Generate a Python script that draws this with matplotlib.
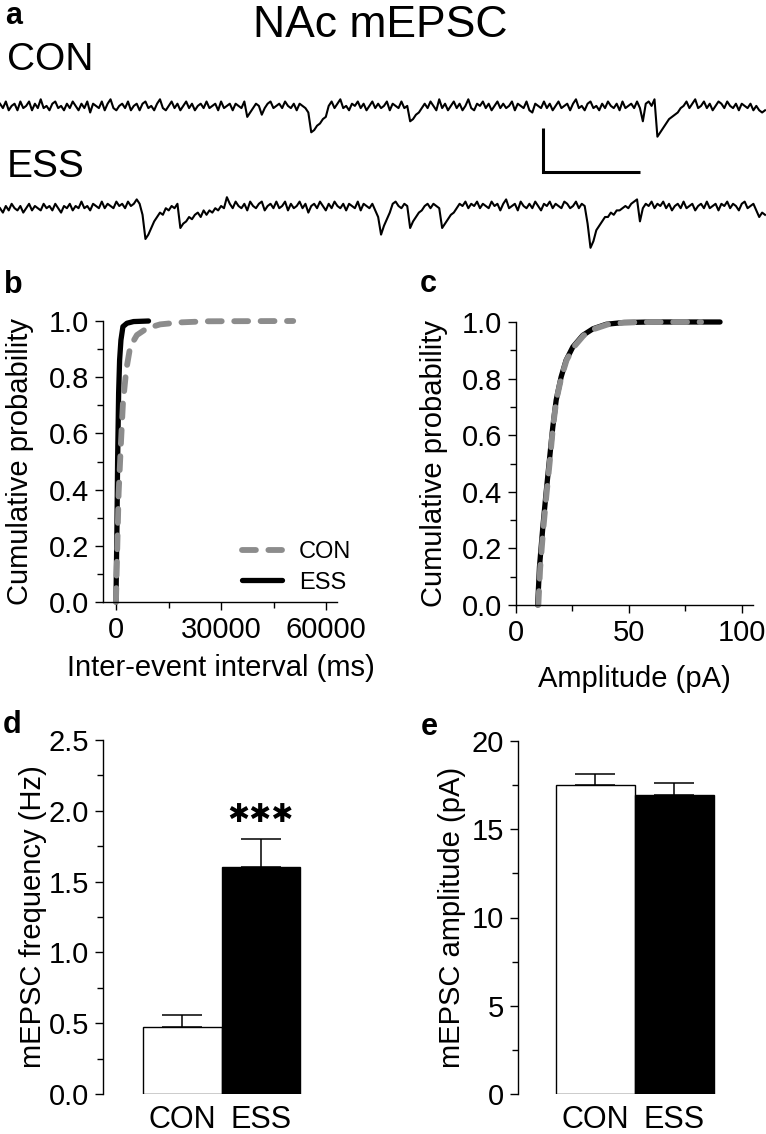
import numpy as np
import matplotlib
matplotlib.use("Agg")
import matplotlib.pyplot as plt
from matplotlib.ticker import FixedLocator

plt.rcParams['font.family'] = ['Liberation Sans', 'DejaVu Sans']
plt.rcParams['lines.scale_dashes'] = False

# --- data ---
# example traces (pA), one sample every 3 ms
trace_con = [
    1, -1, 2, -2, 0, 1, -2, 2, -1, 0, 2, -2, 1, -1, 3, -1, 0, -2, 1, 2, -1, 0, -2, 1,
    -1, 2, 0, -2, 1, -1, 2, -3, 1, 0, -1, 2, -2, 1, 3, -1, -2, 0, 1, -1, 2, -2, 0, 1,
    -2, 1, 2, -1, 0, -2, 1, 3, -1, -2, 0, 2, -1, 1, -2, 0, 2, -1, 1, -2, 0, 1, -1, 2,
    -1, 0, 1, -2, 2, -1, 0, 1, -2, 1, 0, -1, 2, -5, -3, -1, 1, 0, -4, -1, 1, 2, -1, 0,
    1, -1, 2, 0, -1, 1, -2, 1, 0, -1, -3, -12, -11, -9, -8, -6, -5, 0, 2, -1, 1, 3, -1, 0,
    -2, 1, 0, 2, -1, 1, -2, 0, 2, -1, 1, -1, 0, 2, -2, 1, 0, -1, 2, -1, 0, -7, -6, -4,
    -3, -1, 1, -1, 2, 0, -2, 3, -1, 1, -2, 0, 2, -1, 1, -2, 0, 3, -1, -2, 1, 0, 2, -1,
    1, -2, 0, 2, -1, 1, -1, 0, 2, -2, 1, 0, -1, 2, -2, -3, 1, 0, -1, 2, -1, 1, -2, 0,
    2, -1, 0, 1, -2, 1, 3, -1, 0, -2, 1, 2, -1, 0, -2, 1, -1, 2, 0, -1, 1, -2, 2, -1,
    0, 1, -1, 2, -1, -7, 1, 2, 0, 3, -14, -12, -10, -8, -6, -5, -4, -3, -1, 0, 2, -1, 1, 3,
    -1, 0, 2, -1, 1, -2, 0, 2, 1, -1, 2, 0, -1, 1, -2, 1, 0, -1, 1, -2, 0, -2, -3, -2,
]
trace_ess = [
    -1, -3, 0, -2, 1, -1, -2, 0, -3, -1, 1, -2, 0, -1, -2, 1, -1, 0, -2, 1, -1, -3, 0, -1,
    1, -2, 0, -1, 2, -1, 0, -2, 1, 0, -1, 2, -1, 1, 0, -1, 2, 0, 1, -1, 2, 0, 1, 3,
    1, -4, -15, -13, -10, -7, -5, -3, -4, -1, -2, 0, -1, 1, -10, -8, -7, -5, -6, -4, -3, -5, -2, -4,
    -2, -3, -1, -2, 0, -1, 4, 1, -1, 2, 0, -1, 1, -2, 2, 0, -1, 1, 2, -2, 0, 1, -1, 2,
    -1, 0, 2, -2, 1, -1, 0, 2, -1, 1, -3, 0, 1, -1, 2, 0, -2, 1, -1, 2, 0, -1, 1, -2,
    1, 0, -1, 2, -2, 1, 0, -1, 1, -2, -5, -13, -9, -6, -3, 1, 2, 0, -1, 1, 0, -10, -7, -5,
    -3, -2, 0, 1, -1, 1, 0, -1, -10, -8, -6, -4, -3, -1, 1, 0, 2, -1, 1, 0, 2, -1, 1, 0,
    -1, 2, 0, 1, -2, 1, 3, -1, 0, 1, -2, 2, 0, -1, 1, -1, 2, 0, -2, 1, 0, 2, -1, 1,
    0, -1, 2, 1, -1, 0, 2, -1, 1, 0, -8, -19, -16, -11, -9, -7, -5, -5, -3, -4, -2, -2, -1, 0,
    -1, 1, 2, 3, -7, -1, 1, 0, 2, -1, 1, 0, 2, -1, 1, -2, 0, 1, -1, 2, -1, 0, 1, -2,
    0, 1, -1, 2, -1, 0, 1, -2, 1, 0, 2, -1, 1, 0, -2, 1, 2, -1, 0, 1, -2, -5, -3, -4,
]
sample_ms = 3
scale_pa = 20
scale_ms = 100

# cumulative inter-event interval (ms)
isi_con_x = [0, 285, 760, 1420, 1990, 2940, 4080, 5980, 8830, 12620, 18300, 25900, 50600]
isi_con_y = [0, 0.15, 0.387, 0.565, 0.707, 0.826, 0.909, 0.95, 0.974, 0.988, 0.995, 0.999, 1.0]
isi_ess_x = [0, 285, 475, 760, 1040, 1420, 1990, 3130, 5030, 9300]
isi_ess_y = [0, 0.27, 0.506, 0.743, 0.861, 0.932, 0.98, 0.992, 0.998, 1.0]

# cumulative amplitude (pA)
amp_con_x = [9.9, 10.7, 12.1, 13.5, 15.0, 16.4, 17.9, 20.1, 22.4, 25.4, 29.9, 34.5, 40.5, 48.0, 60.0, 82.0]
amp_con_y = [0, 0.13, 0.27, 0.39, 0.51, 0.63, 0.725, 0.805, 0.865, 0.91, 0.952, 0.975, 0.991, 0.998, 1.0, 1.0]
amp_ess_x = [9.6, 10.4, 11.9, 13.3, 14.8, 16.3, 17.8, 20.0, 22.2, 25.2, 29.6, 34.1, 40.0, 47.4, 59.3, 90.4]
amp_ess_y = [0, 0.135, 0.276, 0.394, 0.512, 0.629, 0.724, 0.806, 0.865, 0.912, 0.953, 0.976, 0.992, 0.998, 1.0, 1.0]

groups = ['CON', 'ESS']
freq_mean = [0.47, 1.60]
freq_sem = [0.09, 0.20]
amp_mean = [17.5, 16.95]
amp_sem = [0.65, 0.65]

# --- figure ---
W, H = 766, 1134
fig = plt.figure(figsize=(W / 100, H / 100), dpi=100)


def px_axes(left, top, right, bottom):
    return fig.add_axes([left / W, 1 - bottom / H, (right - left) / W, (bottom - top) / H])


def ftext(x, y, s, **kw):
    fig.text(x / W, 1 - y / H, s, **kw)


GRAY = '#8c8c8c'
TICK = 21
DASH = (10, 9)


def style_axes(ax):
    for s in ('top', 'right'):
        ax.spines[s].set_visible(False)
    for s in ('left', 'bottom'):
        ax.spines[s].set_linewidth(1.0)
    ax.tick_params(which='major', direction='out', length=6, width=1.0, labelsize=TICK, pad=4)
    ax.tick_params(which='minor', direction='out', length=4, width=1.0)


# a: traces
ax_a = px_axes(0, 85, 766, 255)
ax_a.set_xlim(0, 790)
ax_a.set_ylim(-170 / 2.2, 0)
ax_a.axis('off')
t_con = np.arange(len(trace_con)) * sample_ms
t_ess = np.arange(len(trace_ess)) * sample_ms
ax_a.plot(t_con, np.array(trace_con) - 9.5, color='black', lw=1.5)
ax_a.plot(t_ess, np.array(trace_ess) - 55, color='black', lw=1.5)
x0, y0 = 560, -39.5
ax_a.plot([x0, x0, x0 + scale_ms], [y0 + scale_pa, y0, y0], color='black', lw=2.2,
          solid_capstyle='butt', solid_joinstyle='miter')

ftext(380, 37, 'NAc mEPSC', ha='center', va='baseline', fontsize=32)
ftext(7, 70, 'CON', va='baseline', fontsize=28)
ftext(7, 177, 'ESS', va='baseline', fontsize=28)

# b: inter-event interval
ax_b = px_axes(103, 321, 337, 602)
style_axes(ax_b)
ax_b.plot(isi_ess_x, isi_ess_y, color='black', lw=3.8, clip_on=False, label='ESS',
          solid_capstyle='round')
ax_b.plot(isi_con_x, isi_con_y, color=GRAY, lw=4.2, dashes=DASH, dash_capstyle='round',
          clip_on=False, label='CON')
ax_b.set_xlim(-3700, 63100)
ax_b.set_ylim(0, 1)
ax_b.set_xticks([0, 30000, 60000])
ax_b.xaxis.set_minor_locator(FixedLocator([15000, 45000]))
ax_b.set_yticks(np.arange(0, 1.01, 0.2))
ax_b.set_yticklabels(['%.1f' % v for v in np.arange(0, 1.01, 0.2)])
ax_b.yaxis.set_minor_locator(FixedLocator(np.arange(0.1, 1.0, 0.2)))
ax_b.set_xlabel('Inter-event interval (ms)', fontsize=TICK)
ax_b.set_ylabel('Cumulative probability', fontsize=TICK)
ax_b.xaxis.set_label_coords(0.504, -0.235)
ax_b.xaxis.label.set_va('center')
ax_b.yaxis.set_label_coords(-0.355, 0.5)
ax_b.yaxis.label.set_va('center')
h, l = ax_b.get_legend_handles_labels()
ax_b.legend(h[::-1], l[::-1], frameon=False, loc='lower right', bbox_to_anchor=(1.06, 0.03),
            fontsize=17, handlelength=1.7, handletextpad=0.7, labelspacing=0.35,
            borderpad=0, borderaxespad=0)

# c: amplitude
ax_c = px_axes(516, 322, 753, 605)
style_axes(ax_c)
ax_c.plot(amp_ess_x, amp_ess_y, color='black', lw=3.8, clip_on=False, solid_capstyle='round')
ax_c.plot(amp_con_x, amp_con_y, color=GRAY, lw=4.2, dashes=DASH, dash_capstyle='round',
          clip_on=False)
ax_c.set_xlim(0, 105)
ax_c.set_ylim(0, 1)
ax_c.set_xticks([0, 50, 100])
ax_c.xaxis.set_minor_locator(FixedLocator([25, 75]))
ax_c.set_yticks(np.arange(0, 1.01, 0.2))
ax_c.set_yticklabels(['%.1f' % v for v in np.arange(0, 1.01, 0.2)])
ax_c.yaxis.set_minor_locator(FixedLocator(np.arange(0.1, 1.0, 0.2)))
ax_c.set_xlabel('Amplitude (pA)', fontsize=TICK)
ax_c.set_ylabel('Cumulative probability', fontsize=TICK)
ax_c.xaxis.set_label_coords(0.498, -0.261)
ax_c.xaxis.label.set_va('center')
ax_c.yaxis.set_label_coords(-0.346, 0.5)
ax_c.yaxis.label.set_va('center')


def bar_panel(ax, means, sems, ymax, step, fmt, ylabel, xlim, lab_x):
    for s in ('top', 'right', 'bottom'):
        ax.spines[s].set_visible(False)
    ax.spines['left'].set_linewidth(1.0)
    x = np.arange(len(groups))
    ax.bar(x, means, width=1.0, color=['white', 'black'], edgecolor='black', linewidth=1.0)
    ax.errorbar(x, means, yerr=[[0] * len(x), sems], fmt='none', ecolor='black',
                elinewidth=1.1, capsize=14.4, capthick=1.1)
    ax.set_xlim(*xlim)
    ax.set_ylim(0, ymax)
    ticks = np.arange(0, ymax + step / 2, step)
    ax.set_yticks(ticks)
    ax.set_yticklabels([fmt % v for v in ticks])
    ax.yaxis.set_minor_locator(FixedLocator(np.arange(step / 2, ymax, step)))
    ax.tick_params(axis='y', which='major', direction='out', length=6, width=1.0,
                   labelsize=TICK, pad=4)
    ax.tick_params(axis='y', which='minor', direction='out', length=4, width=1.0)
    ax.set_xticks(x)
    ax.set_xticklabels(groups)
    ax.tick_params(axis='x', length=0, labelsize=22, pad=8)
    ax.set_ylabel(ylabel, fontsize=TICK)
    ax.yaxis.set_label_coords(lab_x, 0.5)
    ax.yaxis.label.set_va('center')


ax_d = px_axes(103, 740, 330, 1094)
bar_panel(ax_d, freq_mean, freq_sem, 2.5, 0.5, '%.1f', 'mEPSC frequency (Hz)',
          (-1.01, 1.88), -0.308)
ax_d.text(1, 1.97, '\u2731\u2731\u2731', ha='center', va='center', fontsize=19,
          family='DejaVu Sans')

ax_e = px_axes(518, 741, 750, 1094)
bar_panel(ax_e, amp_mean, amp_sem, 20, 5, '%d', 'mEPSC amplitude (pA)',
          (-0.98, 1.96), -0.284)

# panel letters
ftext(5, 0.5, 'a', va='top', fontsize=22, fontweight='bold')
for s, x, y in [('b', 4, 293), ('c', 420, 292), ('d', 3, 733), ('e', 421, 735)]:
    ftext(x, y, s, va='baseline', fontsize=22, fontweight='bold')

fig.savefig('out.png', dpi=100)
